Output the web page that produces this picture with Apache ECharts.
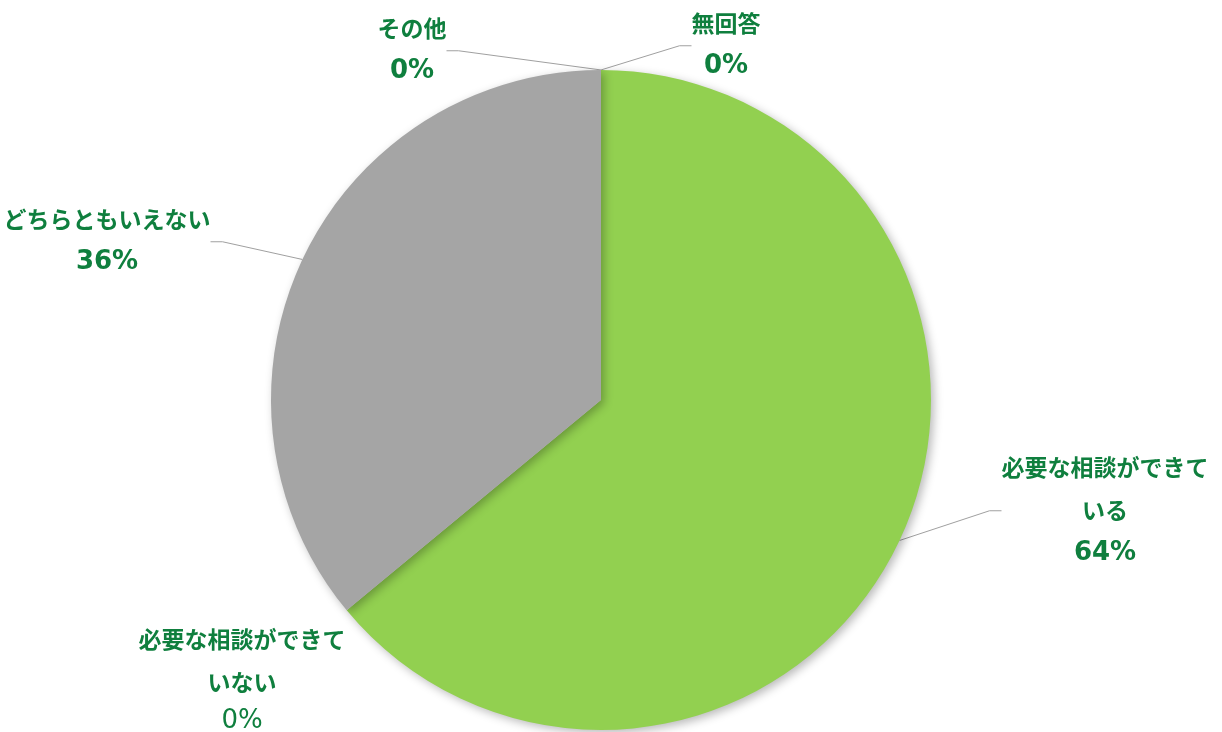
<!DOCTYPE html>
<html>
<head>
<meta charset="utf-8">
<script src="https://cdn.jsdelivr.net/npm/echarts@6/dist/echarts.min.js"></script>
<style>
  html, body { margin: 0; padding: 0; background: #fff; }
  #chart { width: 1222px; height: 732px; }
</style>
</head>
<body>
<div id="chart"></div>
<script>
const NAMES = ['必要な相談ができて\nいる', '必要な相談ができて\nいない', 'どちらともいえない', 'その他', '無回答'];
const VALUES = [64, 0, 36, 0, 0];
const COLORS = ['#92D050', '#7F7F7F', '#A5A5A5', '#5B9BD5', '#FFC000'];

const INK = '#0F7F3E';
// label centres, px
const LABEL_POS = [[1105, 510], [242, 678], [107, 241], [412, 50], [726, 45]];

const chart = echarts.init(document.getElementById('chart'));

const txt = { color: INK, fontFamily: 'Noto Sans CJK JP', fontWeight: 'bold', fontSize: 23, lineHeight: 43, align: 'center' };
const pct = { color: INK, fontFamily: 'DejaVu Sans', fontWeight: 'bold', fontSize: 26, lineHeight: 43, align: 'center' };

chart.setOption({
  backgroundColor: '#fff',
  animation: false,
  series: [{
    type: 'pie',
    center: ['49.18%', '54.64%'],
    radius: 330,
    startAngle: 90,
    clockwise: true,
    minAngle: 0,
    avoidLabelOverlap: false,
    data: NAMES.map((n, i) => ({
      name: n,
      value: VALUES[i],
      itemStyle: { color: COLORS[i] },
      label: i === 1 ? { formatter: '{n|{b}}\n{q|{d}%}' } : undefined,
      labelLine: i === 1 ? { show: false } : undefined,
    })),
    itemStyle: {
      shadowBlur: 10, shadowOffsetX: 3, shadowOffsetY: 3,
      shadowColor: 'rgba(0,0,0,0.28)',
    },
    label: {
      show: true,
      formatter: '{n|{b}}\n{p|{d}%}',
      rich: {
        n: txt,
        p: pct,
        q: { ...pct, fontWeight: 'normal', lineHeight: 34 },
      },
    },
    labelLine: {
      show: true,
      length: 20, length2: 12,
      lineStyle: { color: '#A0A0A0', width: 1 },
    },
    labelLayout: p => {
      const [x, y] = LABEL_POS[p.dataIndex];
      return { x, y, align: 'center', verticalAlign: 'middle' };
    },
    emphasis: { disabled: true },
  }],
});
</script>
</body>
</html>
